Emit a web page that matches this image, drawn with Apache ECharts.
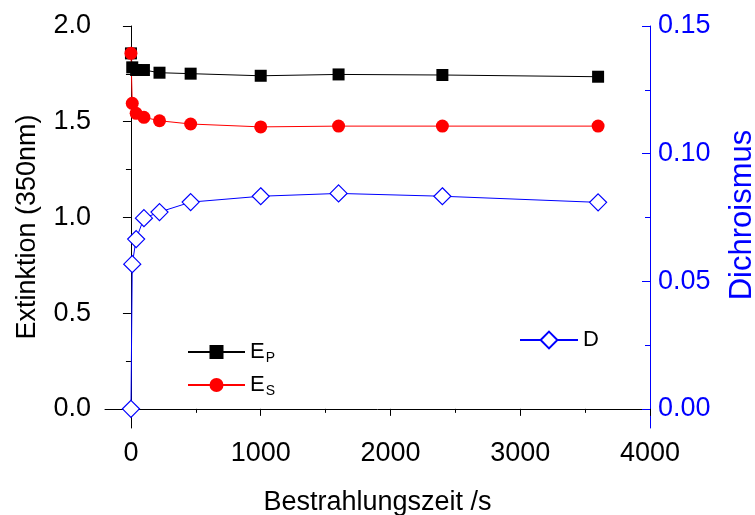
<!DOCTYPE html>
<html>
<head>
<meta charset="utf-8">
<script src="https://cdn.jsdelivr.net/npm/echarts@6/dist/echarts.min.js"></script>
<style>
html,body{margin:0;padding:0;background:#fff;}
#chart{width:755px;height:515px;}
</style>
</head>
<body>
<div id="chart"></div>
<script>
// Data
var times = [0, 10, 40, 100, 220, 460, 1000, 1600, 2400, 3600];
var extP  = [1.857, 1.784, 1.770, 1.770, 1.756, 1.751, 1.740, 1.747, 1.744, 1.735];
var extS  = [1.857, 1.596, 1.544, 1.523, 1.505, 1.488, 1.473, 1.477, 1.477, 1.477];
var dichro = [0.000, 0.0567, 0.0665, 0.0747, 0.0771, 0.0810, 0.0833, 0.0844, 0.0833, 0.0809];

var xMajor = [0, 1000, 2000, 3000, 4000];
var xMinor = [500, 1500, 2500, 3500];
var yLeftMajor = [0, 0.5, 1.0, 1.5, 2.0];
var yLeftMinor = [0.25, 0.75, 1.25, 1.75];
var yRightMajor = [0, 0.05, 0.10, 0.15];
var yRightMinor = [0.025, 0.075, 0.125];

function pairs(xs, ys){ return xs.map(function(x,i){ return [x, ys[i]]; }); }

var FONT = 'Liberation Sans, Arial, sans-serif';
var BLUE = '#0000ff';

var chart = echarts.init(document.getElementById('chart'), null, {renderer:'canvas'});
chart.setOption({
  animation: false,
  backgroundColor: '#ffffff',
  textStyle: {fontFamily: FONT},
  grid: {left: 105, right: 105, top: 26, bottom: 87, containLabel: false, outerBoundsMode: 'none'},
  legend: [
    {
      data: ['E_P', 'E_S'],
      orient: 'vertical',
      left: 187, top: 341, padding: 0,
      itemWidth: 57, itemHeight: 17.5, itemGap: 9,
      formatter: function(n){ return n === 'E_P' ? '{m|E}{s|P}' : '{m|E}{s|S}'; },
      textStyle: {
        fontFamily: FONT, fontSize: 22, color: '#000',
        rich: {
          m: {fontFamily: FONT, fontSize: 22, color: '#000'},
          s: {fontFamily: FONT, fontSize: 14, color: '#000', padding: [12, 0, 0, 1]}
        }
      }
    },
    {
      data: ['D'],
      orient: 'vertical',
      left: 519, top: 329, padding: 0,
      itemWidth: 58, itemHeight: 21,
      textStyle: {fontFamily: FONT, fontSize: 22, color: '#000'}
    }
  ],
  xAxis: [
    {
      type: 'value', min: -200, max: 4000, position: 'bottom',
      axisLine: {show: true, lineStyle: {color: '#000', width: 1}},
      axisTick: {show: true, inside: false, length: 7, customValues: xMajor, lineStyle: {color: '#000'}},
      axisLabel: {show: true, customValues: xMajor, margin: 12, fontSize: 27, color: '#000', fontFamily: FONT,
        formatter: function(v){ return String(v); }},
      splitLine: {show: false},
      name: 'Bestrahlungszeit /s', nameLocation: 'middle', nameGap: 61,
      nameTextStyle: {fontSize: 27, color: '#000', fontFamily: FONT}
    },
    {
      type: 'value', min: -200, max: 4000, position: 'bottom',
      axisLine: {show: false},
      axisTick: {show: true, inside: false, length: 4, customValues: xMinor, lineStyle: {color: '#000'}},
      axisLabel: {show: false},
      splitLine: {show: false}
    }
  ],
  yAxis: [
    {
      type: 'value', min: -0.1, max: 2.0, position: 'left',
      axisLine: {show: true, lineStyle: {color: '#000', width: 1}},
      axisTick: {show: true, inside: false, length: 8, customValues: yLeftMajor, lineStyle: {color: '#000'}},
      axisLabel: {show: true, customValues: yLeftMajor, margin: 14, fontSize: 27, color: '#000', fontFamily: FONT,
        formatter: function(v){ return v.toFixed(1); }},
      splitLine: {show: false},
      name: 'Extinktion (350nm)', nameLocation: 'middle', nameGap: 64, nameRotate: 90,
      nameTextStyle: {fontSize: 27, color: '#000', fontFamily: FONT}
    },
    {
      type: 'value', min: -0.1, max: 2.0, position: 'left',
      axisLine: {show: false},
      axisTick: {show: true, inside: false, length: 5, customValues: yLeftMinor, lineStyle: {color: '#000'}},
      axisLabel: {show: false},
      splitLine: {show: false}
    },
    {
      type: 'value', min: -0.0075, max: 0.15, position: 'right',
      axisLine: {show: true, lineStyle: {color: BLUE, width: 1}},
      axisTick: {show: true, inside: true, length: 8, customValues: yRightMajor, lineStyle: {color: BLUE}},
      axisLabel: {show: true, customValues: yRightMajor, margin: 8, fontSize: 27, color: BLUE, fontFamily: FONT,
        formatter: function(v){ return v.toFixed(2); }},
      splitLine: {show: false},
      name: 'Dichroismus', nameLocation: 'middle', nameGap: 77, nameRotate: 90,
      nameTextStyle: {fontSize: 31, color: BLUE, fontFamily: FONT, padding: [0, 0, 0, 24]}
    },
    {
      type: 'value', min: -0.0075, max: 0.15, position: 'right',
      axisLine: {show: false},
      axisTick: {show: true, inside: true, length: 5, customValues: yRightMinor, lineStyle: {color: BLUE}},
      axisLabel: {show: false},
      splitLine: {show: false}
    }
  ],
  series: [
    {
      name: 'E_P', type: 'line', xAxisIndex: 0, yAxisIndex: 0,
      data: pairs(times, extP),
      symbol: 'rect', symbolSize: 12,
      lineStyle: {color: '#000', width: 1},
      itemStyle: {color: '#000', borderWidth: 0}
    },
    {
      name: 'E_S', type: 'line', xAxisIndex: 0, yAxisIndex: 0,
      data: pairs(times, extS),
      symbol: 'circle', symbolSize: 13,
      lineStyle: {color: '#ff0000', width: 1},
      itemStyle: {color: '#ff0000', borderWidth: 0}
    },
    {
      name: 'D', type: 'line', xAxisIndex: 0, yAxisIndex: 2,
      data: pairs(times, dichro),
      symbol: 'diamond', symbolSize: 17, showAllSymbol: true,
      lineStyle: {color: BLUE, width: 1},
      itemStyle: {color: '#ffffff', borderColor: BLUE, borderWidth: 1.2}
    }
  ]
});
</script>
</body>
</html>
